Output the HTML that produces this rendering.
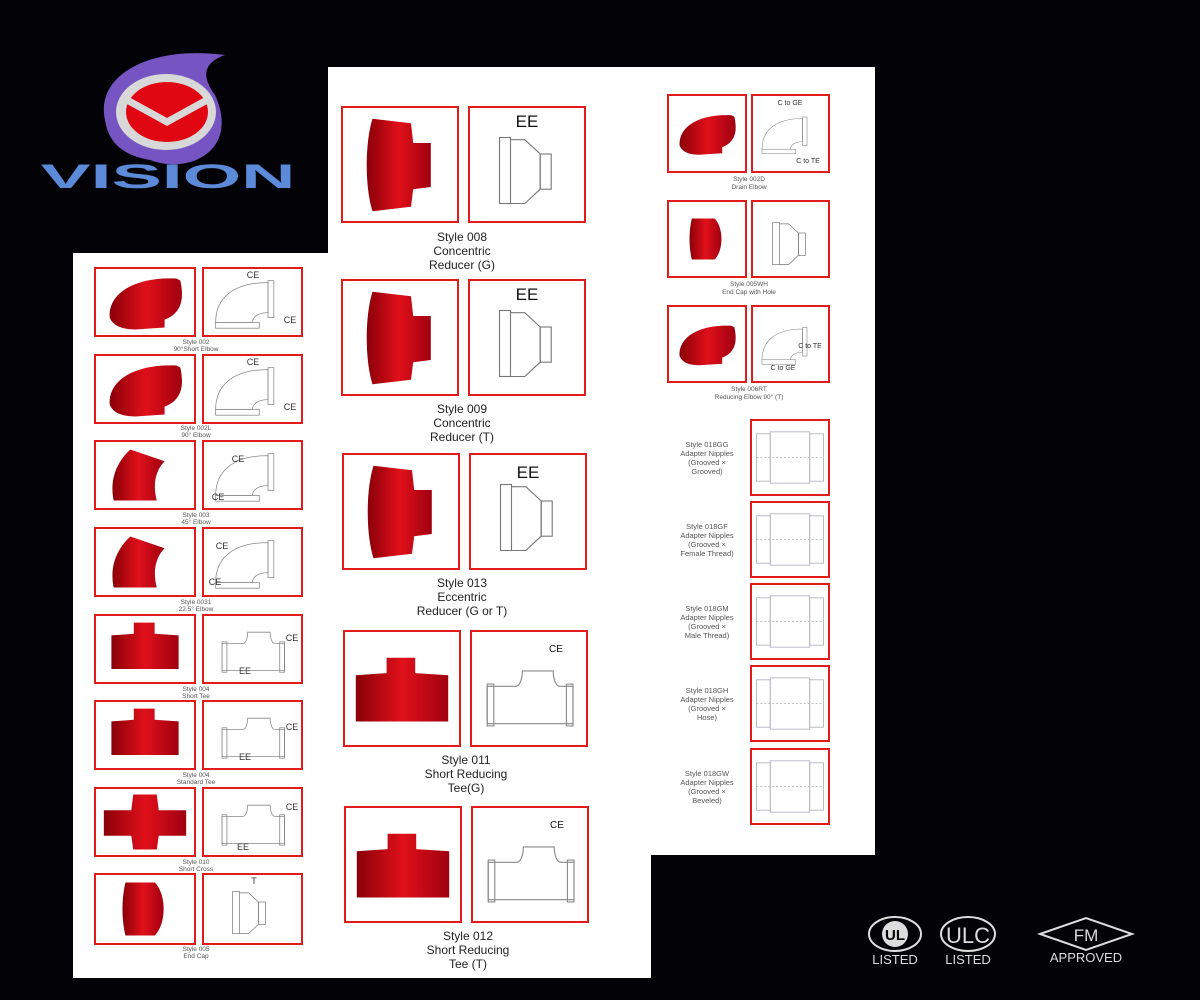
<!DOCTYPE html>
<html><head><meta charset="utf-8"><style>
html,body{margin:0;padding:0;background:#000;}
svg{display:block;font-family:"Liberation Sans",sans-serif;}
</style></head><body>
<svg width="1200" height="1000" viewBox="0 0 1200 1000" xmlns="http://www.w3.org/2000/svg">
<rect width="1200" height="1000" fill="#020207"/>
<defs>
<linearGradient id="rg" x1="0" y1="0" x2="1" y2="0"><stop offset="0" stop-color="#8a0008"/><stop offset=".5" stop-color="#e0101a"/><stop offset="1" stop-color="#a00010"/></linearGradient>
<symbol id="elbow" viewBox="0 0 100 68"><path d="M14 50 C12 25 40 8 82 10 L86 12 C90 30 88 45 70 52 L70 60 L40 62 C30 62 18 60 14 50Z" fill="url(#rg)"/></symbol>
<symbol id="red" viewBox="0 0 100 100"><path d="M25 8 L60 12 L62 30 L78 30 L78 70 L62 72 L60 88 L25 92 C18 70 18 30 25 8Z" fill="url(#rg)"/></symbol>
<symbol id="tee" viewBox="0 0 100 100"><path d="M8 38 L36 36 L36 22 L62 22 L62 36 L92 38 L92 80 L8 80Z" fill="url(#rg)"/></symbol>
<symbol id="cross" viewBox="0 0 100 68"><path d="M8 22 L36 22 L38 6 L62 6 L64 22 L92 22 L92 48 L64 48 L62 62 L38 62 L36 48 L8 48Z" fill="url(#rg)"/></symbol>
<symbol id="cap" viewBox="0 0 100 70"><path d="M30 8 L60 8 C72 20 72 50 60 62 L30 62 C26 45 26 25 30 8Z" fill="url(#rg)"/></symbol>
<symbol id="e45" viewBox="0 0 100 68"><path d="M18 60 C14 40 20 22 35 8 L70 20 C60 30 58 45 62 60Z" fill="url(#rg)"/></symbol>
<symbol id="dr" viewBox="0 0 100 100"><g fill="none" stroke="#777" stroke-width="1"><rect x="25" y="25" width="10" height="60"/><path d="M35 27 L48 27 L62 40 L62 72 L48 85 L35 85"/><rect x="62" y="40" width="10" height="32"/></g></symbol>
<symbol id="del" viewBox="0 0 100 68"><g fill="none" stroke="#888" stroke-width=".8"><path d="M12 55 C12 30 30 14 66 14 L66 45 C55 45 50 50 50 55Z"/><rect x="66" y="12" width="6" height="38"/><rect x="12" y="55" width="45" height="6"/></g></symbol>
<symbol id="dtee" viewBox="0 0 100 100"><g fill="none" stroke="#888" stroke-width="1"><path d="M12 48 L38 48 C42 48 44 40 44 34 L72 34 C72 40 74 48 78 48 L90 48 L90 82 L12 82Z"/><rect x="12" y="46" width="6" height="38"/><rect x="84" y="46" width="6" height="38"/></g></symbol>
<symbol id="dnip" viewBox="0 0 80 76"><g fill="none" stroke="#aab" stroke-width=".8"><rect x="6" y="14" width="14" height="48"/><rect x="20" y="12" width="40" height="52"/><rect x="60" y="14" width="14" height="48"/><line x1="6" y1="38" x2="74" y2="38" stroke-dasharray="2 2"/></g></symbol>
</defs>

<!-- logo -->
<path d="M105 120 C95 75 150 45 225 55 C205 62 200 75 215 95 C240 150 190 175 150 160 C120 155 108 140 105 120Z" fill="#7654c2"/>
<ellipse cx="166" cy="112" rx="50" ry="38" fill="#d8d8d8"/>
<ellipse cx="167" cy="112" rx="41" ry="30" fill="#e00612"/>
<path d="M127 100 L167 122 L207 100" fill="none" stroke="#d8d8d8" stroke-width="7"/>
<text x="168" y="188" font-size="34" font-weight="bold" fill="#5b8bd8" text-anchor="middle" textLength="255" lengthAdjust="spacingAndGlyphs" font-family="Liberation Sans">VISION</text>

<!-- panels -->
<rect x="73" y="253" width="258" height="725" fill="#fff"/>
<rect x="328" y="67" width="323" height="911" fill="#fff"/>
<rect x="650" y="67" width="225" height="788" fill="#fff"/>

<g fill="none" stroke="#e21b1b" stroke-width="2">
<!-- left boxes -->
<rect x="95" y="268" width="100" height="68"/><rect x="203" y="268" width="99" height="68"/>
<rect x="95" y="355" width="100" height="68"/><rect x="203" y="355" width="99" height="68"/>
<rect x="95" y="441" width="100" height="68"/><rect x="203" y="441" width="99" height="68"/>
<rect x="95" y="528" width="100" height="68"/><rect x="203" y="528" width="99" height="68"/>
<rect x="95" y="615" width="100" height="68"/><rect x="203" y="615" width="99" height="68"/>
<rect x="95" y="701" width="100" height="68"/><rect x="203" y="701" width="99" height="68"/>
<rect x="95" y="788" width="100" height="68"/><rect x="203" y="788" width="99" height="68"/>
<rect x="95" y="874" width="100" height="70"/><rect x="203" y="874" width="99" height="70"/>
<!-- middle -->
<rect x="342" y="107" width="116" height="115"/><rect x="469" y="107" width="116" height="115"/>
<rect x="342" y="280" width="116" height="115"/><rect x="469" y="280" width="116" height="115"/>
<rect x="343" y="454" width="116" height="115"/><rect x="470" y="454" width="116" height="115"/>
<rect x="344" y="631" width="116" height="115"/><rect x="471" y="631" width="116" height="115"/>
<rect x="345" y="807" width="116" height="115"/><rect x="472" y="807" width="116" height="115"/>
<!-- right -->
<rect x="668" y="95" width="78" height="77"/><rect x="752" y="95" width="77" height="77"/>
<rect x="668" y="201" width="78" height="76"/><rect x="752" y="201" width="77" height="76"/>
<rect x="668" y="306" width="78" height="76"/><rect x="752" y="306" width="77" height="76"/>
<rect x="751" y="420" width="78" height="75"/><rect x="751" y="502" width="78" height="75"/>
<rect x="751" y="584" width="78" height="75"/><rect x="751" y="666" width="78" height="75"/>
<rect x="751" y="749" width="78" height="75"/>
</g>

<!-- left photos -->
<use href="#elbow" x="96" y="268" width="98" height="68"/>
<use href="#elbow" x="96" y="355" width="98" height="68"/>
<use href="#e45" x="96" y="441" width="98" height="68"/>
<use href="#e45" x="96" y="528" width="98" height="68"/>
<use href="#tee" x="96" y="605" width="98" height="80"/>
<use href="#tee" x="96" y="691" width="98" height="80"/>
<use href="#cross" x="96" y="788" width="98" height="68"/>
<use href="#cap" x="96" y="874" width="98" height="70"/>
<!-- left drawings -->
<use href="#del" x="204" y="268" width="97" height="68"/>
<use href="#del" x="204" y="355" width="97" height="68"/>
<use href="#del" x="204" y="441" width="97" height="68"/>
<use href="#del" x="204" y="528" width="97" height="68"/>
<use href="#dtee" x="204" y="605" width="97" height="80"/>
<use href="#dtee" x="204" y="691" width="97" height="80"/>
<use href="#dtee" x="204" y="778" width="97" height="80"/>
<use href="#dr" x="210" y="874" width="80" height="70"/>
<g font-size="9" fill="#333" text-anchor="middle">
<text x="253" y="278">CE</text><text x="290" y="323">CE</text>
<text x="253" y="365">CE</text><text x="290" y="410">CE</text>
<text x="238" y="462">CE</text><text x="218" y="500">CE</text>
<text x="222" y="549">CE</text><text x="215" y="585">CE</text>
<text x="292" y="641">CE</text><text x="245" y="674">EE</text>
<text x="292" y="730">CE</text><text x="245" y="760">EE</text>
<text x="292" y="810">CE</text><text x="243" y="850">EE</text>
<text x="254" y="884">T</text>
</g>
<g font-size="6.5" fill="#555" text-anchor="middle">
<text x="196" y="344">Style 002</text><text x="196" y="351">90°Short Elbow</text>
<text x="196" y="430">Style 002L</text><text x="196" y="437">90° Elbow</text>
<text x="196" y="517">Style 003</text><text x="196" y="524">45° Elbow</text>
<text x="196" y="604">Style 0031</text><text x="196" y="611">22.5° Elbow</text>
<text x="196" y="691">Style 004</text><text x="196" y="698">Short Tee</text>
<text x="196" y="777">Style 004</text><text x="196" y="784">Standard Tee</text>
<text x="196" y="864">Style 010</text><text x="196" y="871">Short Cross</text>
<text x="196" y="951">Style 005</text><text x="196" y="958">End Cap</text>
</g>

<!-- middle photos -->
<use href="#red" x="345" y="110" width="110" height="110"/>
<use href="#red" x="345" y="283" width="110" height="110"/>
<use href="#red" x="346" y="457" width="110" height="110"/>
<use href="#tee" x="347" y="631" width="110" height="115"/>
<use href="#tee" x="348" y="807" width="110" height="115"/>
<use href="#dr" x="472" y="110" width="110" height="110"/>
<use href="#dr" x="472" y="283" width="110" height="110"/>
<use href="#dr" x="473" y="457" width="110" height="110"/>
<use href="#dtee" x="474" y="631" width="110" height="115"/>
<use href="#dtee" x="475" y="807" width="110" height="115"/>
<g font-size="17" fill="#111" text-anchor="middle">
<text x="527" y="127">EE</text><text x="527" y="300">EE</text><text x="528" y="478">EE</text>
</g>
<g font-size="10" fill="#111" text-anchor="middle"><text x="556" y="652">CE</text><text x="557" y="828">CE</text></g>
<g font-size="12" fill="#222" text-anchor="middle">
<text x="462" y="241">Style 008</text><text x="462" y="255">Concentric</text><text x="462" y="269">Reducer (G)</text>
<text x="462" y="413">Style 009</text><text x="462" y="427">Concentric</text><text x="462" y="441">Reducer (T)</text>
<text x="462" y="587">Style 013</text><text x="462" y="601">Eccentric</text><text x="462" y="615">Reducer (G or T)</text>
<text x="466" y="764">Style 011</text><text x="466" y="778">Short Reducing</text><text x="466" y="792">Tee(G)</text>
<text x="468" y="940">Style 012</text><text x="468" y="954">Short Reducing</text><text x="468" y="968">Tee (T)</text>
</g>

<!-- right -->
<use href="#elbow" x="669" y="96" width="76" height="75"/>
<use href="#cap" x="669" y="202" width="76" height="74"/>
<use href="#elbow" x="669" y="307" width="76" height="74"/>
<use href="#del" x="753" y="96" width="75" height="75"/>
<use href="#dr" x="755" y="205" width="70" height="70"/>
<use href="#del" x="753" y="307" width="75" height="74"/>
<use href="#dnip" x="750" y="420" width="80" height="75"/>
<use href="#dnip" x="750" y="502" width="80" height="75"/>
<use href="#dnip" x="750" y="584" width="80" height="75"/>
<use href="#dnip" x="750" y="666" width="80" height="75"/>
<use href="#dnip" x="750" y="749" width="80" height="75"/>
<g font-size="7" fill="#333" text-anchor="middle">
<text x="790" y="105">C to GE</text><text x="808" y="163">C to TE</text>
<text x="810" y="348">C to TE</text><text x="783" y="370">C to GE</text>
</g>
<g font-size="6.5" fill="#555" text-anchor="middle">
<text x="749" y="181">Style 002D</text><text x="749" y="189">Drain Elbow</text>
<text x="749" y="286">Style 005WH</text><text x="749" y="294">End Cap with Hole</text>
<text x="749" y="391">Style 006RT</text><text x="749" y="399">Reducing Elbow 90° (T)</text>
</g>
<g font-size="7.5" fill="#555" text-anchor="middle">
<text x="707" y="447">Style 018GG</text><text x="707" y="456">Adapter Nipples</text><text x="707" y="465">(Grooved ×</text><text x="707" y="474">Grooved)</text>
<text x="707" y="529">Style 018GF</text><text x="707" y="538">Adapter Nipples</text><text x="707" y="547">(Grooved ×</text><text x="707" y="556">Female Thread)</text>
<text x="707" y="611">Style 018GM</text><text x="707" y="620">Adapter Nipples</text><text x="707" y="629">(Grooved ×</text><text x="707" y="638">Male Thread)</text>
<text x="707" y="693">Style 018GH</text><text x="707" y="702">Adapter Nipples</text><text x="707" y="711">(Grooved ×</text><text x="707" y="720">Hose)</text>
<text x="707" y="776">Style 018GW</text><text x="707" y="785">Adapter Nipples</text><text x="707" y="794">(Grooved ×</text><text x="707" y="803">Beveled)</text>
</g>

<!-- certifications -->
<g fill="none" stroke="#ddd" stroke-width="2">
<ellipse cx="895" cy="934" rx="26" ry="17"/>
<ellipse cx="968" cy="934" rx="27" ry="17"/>
<path d="M1040 934 L1086 918 L1132 934 L1086 950Z"/>
</g>
<g fill="#ddd" text-anchor="middle">
<circle cx="895" cy="934" r="13" fill="#ddd"/>
<text x="895" y="940" font-size="15" font-weight="bold" fill="#000">UL</text>
<text x="968" y="943" font-size="22" fill="#ddd">ULC</text>
<text x="1086" y="941" font-size="17">FM</text>
<text x="895" y="964" font-size="13">LISTED</text>
<text x="968" y="964" font-size="13">LISTED</text>
<text x="1086" y="962" font-size="13">APPROVED</text>
</g>
</svg>
</body></html>
